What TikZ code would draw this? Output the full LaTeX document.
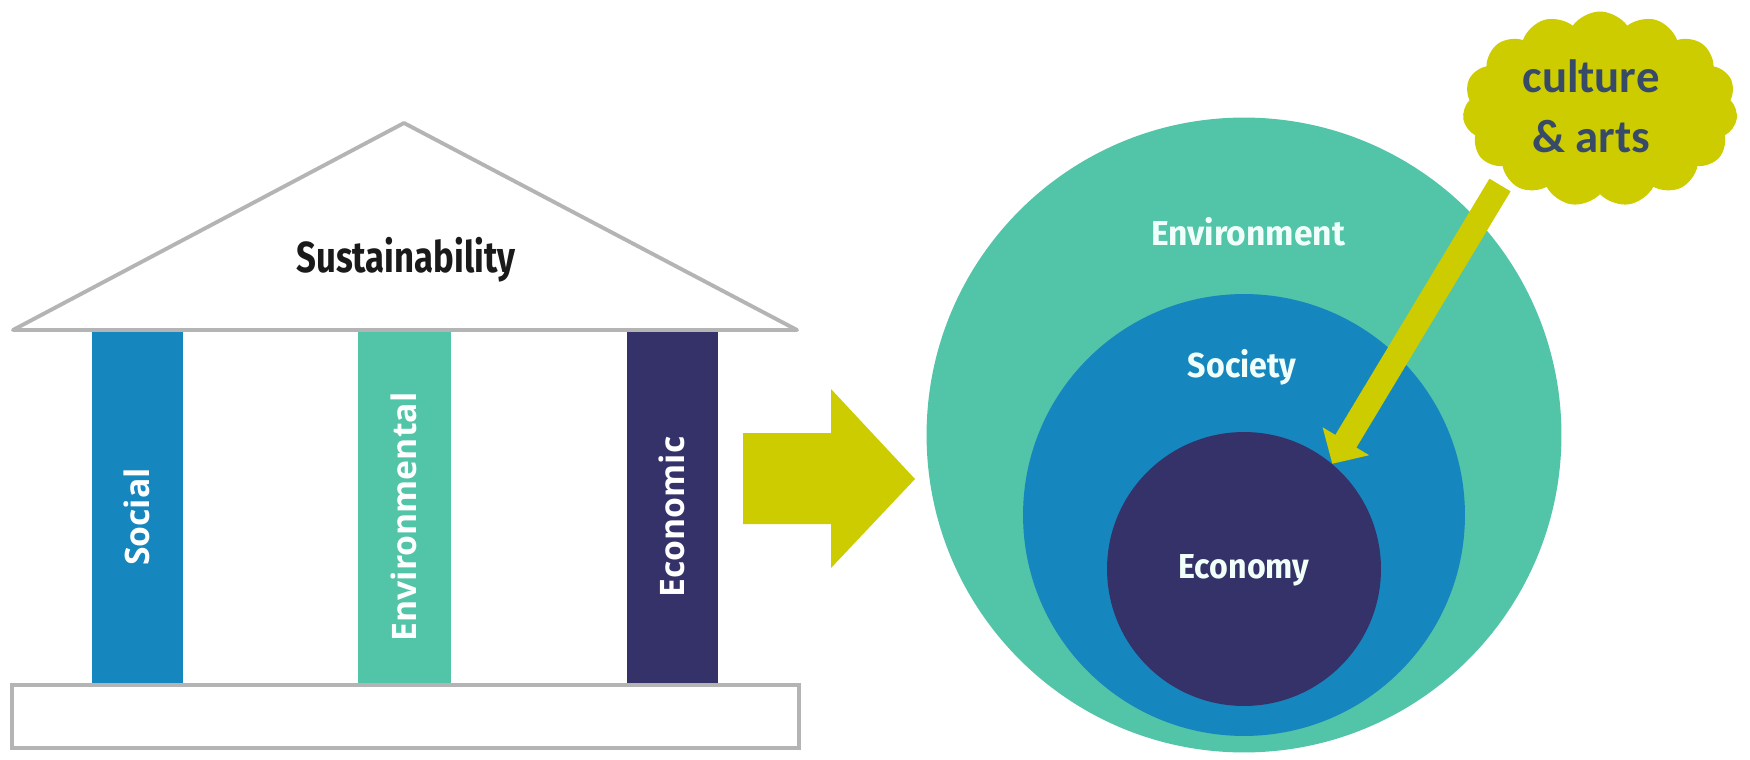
\documentclass[tikz,border=0pt]{standalone}
\usepackage{fontspec}
\setmainfont{Open Sans}
\newfontfamily\firasans{Fira Sans}
\newfontfamily\carlitof{Carlito}
\usetikzlibrary{shapes.symbols, arrows.meta}
\definecolor{teal1}{RGB}{82,196,168}
\definecolor{blue1}{RGB}{22,134,191}
\definecolor{navy1}{RGB}{53,50,105}
\definecolor{ygreen}{RGB}{204,204,0}
\definecolor{gray1}{RGB}{180,180,180}
\definecolor{slate1}{RGB}{55,75,105}
\definecolor{ink}{RGB}{26,26,26}
\definecolor{paletxt}{RGB}{240,255,250}
\begin{document}
\begin{tikzpicture}[x=0.02cm, y=-0.02cm,
  outline/.style={draw=gray1, line width=2.2pt, fill=white},
  pillartxt/.style={text=white, font=\bfseries\fontsize{19.2}{21}\selectfont, rotate=90, inner sep=0},
  ringtxt/.style={text=paletxt, font=\firasans\bfseries\fontsize{19.7}{22}\selectfont, inner sep=0, anchor=base},
  ring/.style={circle, fill=#1, draw=none, inner sep=0},
  callarrow/.style={draw=ygreen, line width=14pt, -{Triangle[width=30pt,length=15pt]}},
]
\useasboundingbox (0,0) rectangle (1750,760);
\fill[white] (0,0) rectangle (1750,760);

% temple roof
\draw[outline, line join=round] (13,330) -- (404,123) -- (797,330) -- cycle;
\node[font=\firasans\bfseries\fontsize{24.7}{26}\selectfont, text=ink, anchor=base, inner sep=0] (sust) at (406,272) {\scalebox{0.8}[1]{Sustainability}};

% pillars
\fill[blue1] (92,332) rectangle (183,685);
\fill[teal1] (358,332) rectangle (451,685);
\fill[navy1] (627,332) rectangle (718,685);
\node[pillartxt] (social) at (137,517) {Social};
\node[pillartxt] (environmental) at (404,517) {Environmental};
\node[pillartxt] (economic) at (672,517) {Economic};

% base
\draw[outline] (12,685) rectangle (799,748);

% big arrow
\fill[ygreen] (743,433) -- (831,433) -- (831,389) -- (915,479) -- (831,568) -- (831,524) -- (743,524) -- cycle;

% circles
\node[ring=teal1, minimum size=12.7cm] (env) at (1244,435) {};
\node[ring=blue1, minimum size=8.84cm] (soc) at (1244,515) {};
\node[ring=navy1, minimum size=5.48cm] (eco) at (1244,569) {};
\node[ringtxt] (envl) at (1248,245) {\scalebox{0.97}[1]{Environment}};
\node[ringtxt] (socl) at (1242,377) {\scalebox{0.93}[1]{Society}};
\node[ringtxt] (ecol) at (1244,578) {\scalebox{0.93}[1]{Economy}};

% callout arrow and cloud
\coordinate (cstart) at (1500,185);
\draw[callarrow] (cstart) -- (eco.50);
\node[cloud, cloud puffs=15, cloud puff arc=110, aspect=1.45, fill=ygreen, draw=none, minimum width=5.5cm, minimum height=3.9cm, inner sep=0] (cloud) at (1600,109) {};
\node[font=\carlitof\bfseries\fontsize{26.6}{34}\selectfont, text=slate1, align=center, inner sep=0] (cloudtxt) at (1591,106) {culture\\\& arts};
\end{tikzpicture}
\end{document}
